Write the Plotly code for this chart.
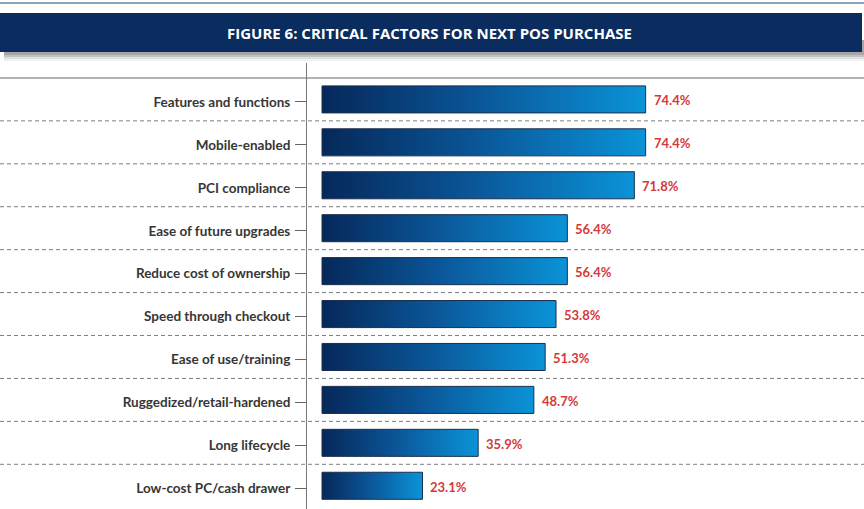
import plotly.graph_objects as go

categories = [
    "Features and functions",
    "Mobile-enabled",
    "PCI compliance",
    "Ease of future upgrades",
    "Reduce cost of ownership",
    "Speed through checkout",
    "Ease of use/training",
    "Ruggedized/retail-hardened",
    "Long lifecycle",
    "Low-cost PC/cash drawer",
]
values = [74.4, 74.4, 71.8, 56.4, 56.4, 53.8, 51.3, 48.7, 35.9, 23.1]
value_labels = ["74.4%", "74.4%", "71.8%", "56.4%", "56.4%", "53.8%", "51.3%", "48.7%", "35.9%", "23.1%"]
title_text = "FIGURE 6: CRITICAL FACTORS FOR NEXT POS PURCHASE"

W, H = 864, 509
LABEL_FONT = "Lato, 'Open Sans', sans-serif"

fig = go.Figure()

bh = 0.315
grad = [[0.0, "#06285a"], [0.45, "#0a5394"], [1.0, "#0b93d8"]]
for i, v in enumerate(values):
    fig.add_trace(go.Scatter(
        x=[0, v, v, 0, 0],
        y=[i - bh, i - bh, i + bh, i + bh, i - bh],
        mode="lines",
        fill="toself",
        fillgradient=dict(type="horizontal", colorscale=grad),
        line=dict(color="#1b2f4d", width=1),
        hoverinfo="skip",
        showlegend=False,
    ))

annotations = []
for i, (v, t) in enumerate(zip(values, value_labels)):
    annotations.append(dict(
        x=v, y=i, xref="x", yref="y", text=t, showarrow=False,
        xanchor="left", yanchor="middle", xshift=6, yshift=-1,
        font=dict(family=LABEL_FONT, size=13, color="#d4393b", weight="bold"),
    ))

annotations.append(dict(
    x=429 / W, y=1 - 33 / H, xref="paper", yref="paper", text=title_text,
    showarrow=False, xanchor="center", yanchor="middle",
    font=dict(family="'Open Sans', sans-serif", size=15, color="white", weight="bold"),
))

shapes = []
# top thin line
shapes.append(dict(type="line", xref="paper", yref="paper", x0=0, x1=1,
                   y0=1 - 3 / H, y1=1 - 3 / H, line=dict(color="#8ea3be", width=2)))
# banner shadow
for off, op in [(9, 0.05), (7, 0.08), (5, 0.12), (3, 0.15)]:
    shapes.append(dict(type="rect", xref="paper", yref="paper", x0=4 / W, x1=(864) / W,
                       y0=1 - (52 + off) / H, y1=1 - 40 / H,
                       fillcolor="rgba(0,0,0,%s)" % op, line=dict(width=0), layer="below"))
# banner
shapes.append(dict(type="rect", xref="paper", yref="paper", x0=0, x1=862 / W,
                   y0=1 - 52 / H, y1=1 - 13 / H, fillcolor="#0a2c5e", line=dict(width=0)))
# top solid separator
shapes.append(dict(type="line", xref="paper", yref="y", x0=0, x1=1, y0=-0.5, y1=-0.5,
                   line=dict(color="#9a9a9a", width=1.5), layer="below"))
# dashed separators
for i in range(len(categories) - 1):
    shapes.append(dict(type="line", xref="paper", yref="y", x0=0, x1=1, y0=i + 0.5, y1=i + 0.5,
                       line=dict(color="#7d7d7d", width=1, dash="4px,3px"), layer="below"))

fig.update_layout(
    width=W, height=H,
    margin=dict(l=0, r=0, t=0, b=0),
    paper_bgcolor="white", plot_bgcolor="white",
    xaxis=dict(domain=[307 / W, 1], range=[-3.45, 124.6], visible=False, fixedrange=True),
    yaxis=dict(
        domain=[0, 446 / H], range=[9.541, -0.848],
        tickmode="array", tickvals=[i + 0.06 for i in range(len(categories))], ticktext=categories,
        showgrid=False, zeroline=False,
        showline=True, linecolor="#777777", linewidth=1,
        ticks="outside", ticklen=11, tickcolor="#666666", tickwidth=1,
        tickfont=dict(family=LABEL_FONT, size=13.5, color="#363636", weight="bold"),
        ticklabelstandoff=2,
    ),
    annotations=annotations,
    shapes=shapes,
    showlegend=False,
)

fig.write_html("out.html")
